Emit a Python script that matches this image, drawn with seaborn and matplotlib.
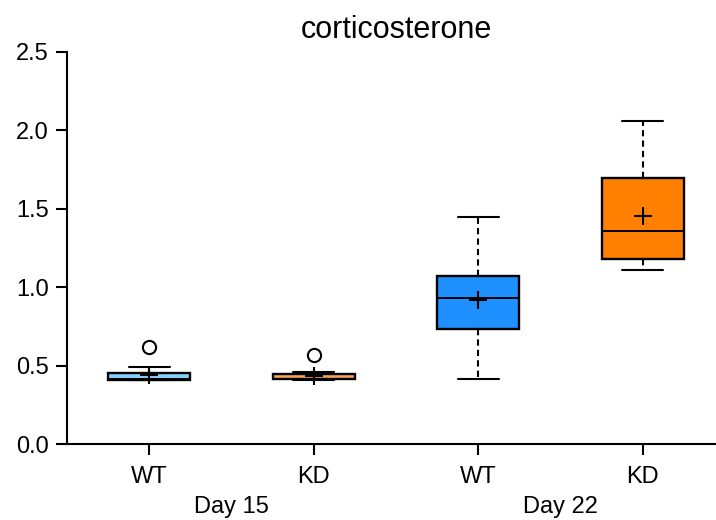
import numpy as np
import matplotlib
matplotlib.use("Agg")
import matplotlib.pyplot as plt
import seaborn as sns

# box statistics (corticosterone)
groups = ["WT", "KD", "WT", "KD"]
days = ["Day 15", "Day 22"]
whislo = [0.41, 0.41, 0.413, 1.11]
q1 = [0.41, 0.412, 0.731, 1.178]
med = [0.412, 0.414, 0.929, 1.356]
q3 = [0.455, 0.445, 1.071, 1.696]
whishi = [0.493, 0.457, 1.448, 2.06]
means = [0.44, 0.437, 0.916, 1.454]
fliers = [[0.62], [0.566], [], []]
colors = ["#87CEFA", "#F4A460", "#1E90FF", "#FF8000"]

sns.set_style("ticks")
plt.rcParams['font.family'] = ['Liberation Sans', 'DejaVu Sans']

fig = plt.figure(figsize=(7.16, 5.2), dpi=100)
ax = fig.add_axes([0.0936, 0.146, 0.919, 0.754])

stats = []
for i in range(len(groups)):
    stats.append({
        'whislo': whislo[i], 'q1': q1[i], 'med': med[i], 'q3': q3[i],
        'whishi': whishi[i], 'mean': means[i], 'fliers': fliers[i],
    })

bp = ax.bxp(stats, positions=np.arange(len(groups)), widths=0.5,
            patch_artist=True, showmeans=True, showfliers=True,
            boxprops=dict(linewidth=1.7, edgecolor='black'),
            medianprops=dict(color='black', linewidth=1.4),
            whiskerprops=dict(color='black', linewidth=1.5, linestyle=(0, (3, 2))),
            capprops=dict(color='black', linewidth=1.5),
            capwidths=0.25,
            meanprops=dict(marker='+', markeredgecolor='black', markersize=13,
                           markeredgewidth=1.5),
            flierprops=dict(marker='o', markerfacecolor='white',
                            markeredgecolor='black', markersize=9.5,
                            markeredgewidth=1.5))
for patch, c in zip(bp['boxes'], colors):
    patch.set_facecolor(c)

ax.set_xlim(-0.5, 3.5)
ax.set_ylim(0, 2.5)
ax.set_yticks([0, 0.5, 1.0, 1.5, 2.0, 2.5])
ax.set_yticklabels(["0.0", "0.5", "1.0", "1.5", "2.0", "2.5"])
ax.set_xticks(np.arange(len(groups)))
ax.set_xticklabels(groups)
ax.tick_params(axis='both', labelsize=17, length=8, width=1.5, color='black',
               labelcolor='black')
ax.tick_params(axis='x', pad=8)
ax.tick_params(axis='y', pad=5)
sns.despine(ax=ax)
for s in ['left', 'bottom']:
    ax.spines[s].set_linewidth(1.5)
    ax.spines[s].set_color('black')

for j, d in enumerate(days):
    ax.text(2 * j + 0.5, -0.40, d, ha='center', va='center', fontsize=17,
            color='black', transform=ax.transData)

ax.set_title("corticosterone", fontsize=22, pad=10, color='black')

fig.savefig("out.png", dpi=100)
